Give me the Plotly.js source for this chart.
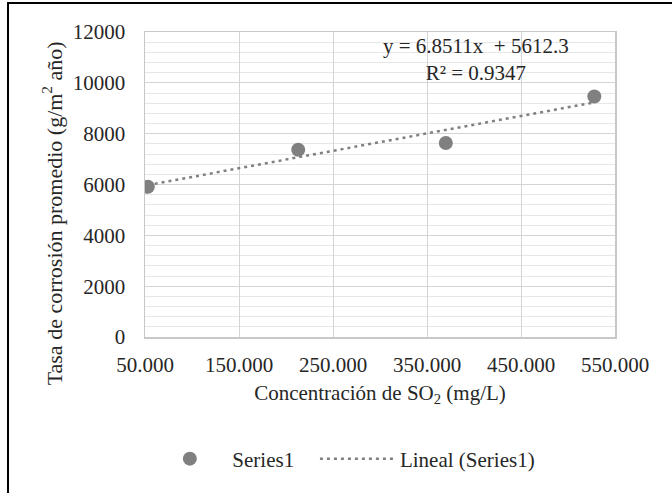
<!DOCTYPE html>
<html>
<head>
<meta charset="utf-8">
<script src="https://cdn.plot.ly/plotly-3.0.1.min.js"></script>
<style>
html,body{margin:0;padding:0;background:#fff;}
#wrap{position:relative;width:672px;height:493px;}
#chart{width:672px;height:493px;}
#frame{position:absolute;left:7px;top:2px;width:680px;height:500px;border-top:2px solid #000;border-left:2px solid #000;pointer-events:none;}
</style>
</head>
<body>
<div id="wrap"><div id="chart"></div><div id="frame"></div></div>
<script>
// Data
const concentrations = [53, 213, 370, 528];          // SO2 concentration (mg/L)
const corrosionRates = [5910, 7370, 7630, 9460];     // g/m² año
const trendSlope = 6.8511;
const trendIntercept = 5612.3;
const trendR2 = 0.9347;
const xTickStart = 50, xTickStep = 100;
const yTickStep = 2000;
const yTitle = 'Tasa de corrosión promedio (g/m<sup>2</sup> año)';
const xTitle = 'Concentración de SO<sub>2</sub> (mg/L)';

const trendX = [concentrations[0], concentrations[concentrations.length - 1]];
const trendY = trendX.map(x => trendSlope * x + trendIntercept);

const font = {family: 'Liberation Serif, Times New Roman, serif', color: '#262626', size: 21};

const traces = [
  {
    x: concentrations, y: corrosionRates, type: 'scatter', mode: 'markers',
    name: 'Series1\u00a0\u00a0\u00a0',
    marker: {color: '#808080', size: 14}
  },
  {
    x: trendX, y: trendY, type: 'scatter', mode: 'lines',
    name: 'Lineal (Series1)',
    line: {color: '#808080', width: 2.5, dash: '3px,4px'}
  }
];

const layout = {
  width: 672, height: 493,
  margin: {l: 145, r: 57, t: 32, b: 156},
  paper_bgcolor: '#fff', plot_bgcolor: '#fff',
  font: font,
  showlegend: true,
  legend: {orientation: 'h', x: 0.005, xanchor: 'left', y: -0.40, yanchor: 'middle',
           font: font, itemwidth: 75, traceorder: 'normal'},
  xaxis: {
    range: [50, 550], tick0: xTickStart, dtick: xTickStep, tickformat: '.3f',
    showgrid: true, gridcolor: '#d4d4d4', gridwidth: 1,
    showline: true, linecolor: '#c8c8c8', linewidth: 1.5, mirror: true,
    zeroline: false, ticks: '', ticklabelstandoff: 8,
    tickfont: font,
    title: {text: xTitle, font: font, standoff: 9}
  },
  yaxis: {
    range: [0, 12000], dtick: yTickStep, tickformat: 'd',
    showgrid: true, gridcolor: '#d4d4d4', gridwidth: 1,
    minor: {dtick: 400, showgrid: true, gridcolor: '#e6e6e6', gridwidth: 1, ticks: ''},
    showline: true, linecolor: '#c8c8c8', linewidth: 1.5, mirror: true,
    zeroline: false, ticks: '', ticklabelstandoff: 14,
    tickfont: font
  },
  annotations: [
    {
      xref: 'paper', yref: 'paper', x: 0.704, y: 1.0, xanchor: 'center', yanchor: 'top',
      showarrow: false, align: 'center',
      text: 'y = ' + trendSlope + 'x  + ' + trendIntercept + '<br>R² = ' + trendR2,
      font: font
    },
    {
      xref: 'paper', yref: 'paper', x: -0.196, y: 0.405, xanchor: 'center', yanchor: 'middle',
      showarrow: false, textangle: -90,
      text: yTitle,
      font: Object.assign({}, font, {size: 22})
    }
  ]
};

Plotly.newPlot('chart', traces, layout, {displayModeBar: false, staticPlot: true});
</script>
</body>
</html>
